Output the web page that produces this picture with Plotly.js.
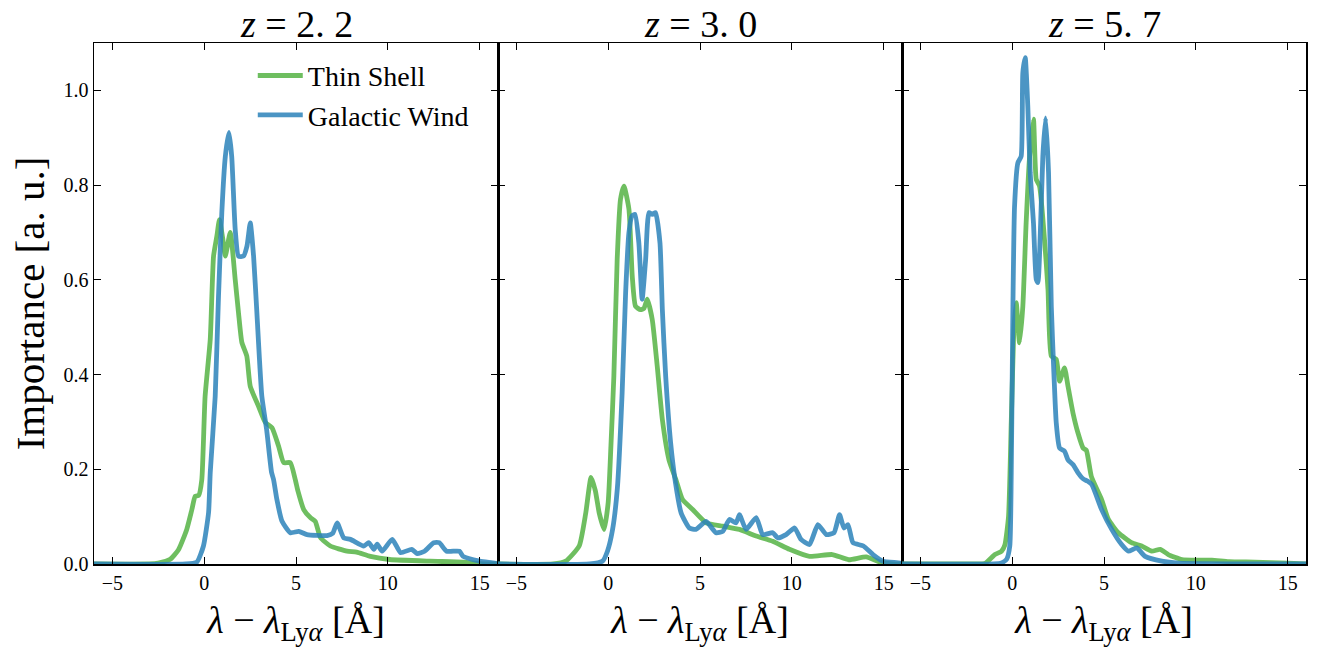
<!DOCTYPE html>
<html>
<head>
<meta charset="utf-8">
<script src="https://cdn.plot.ly/plotly-3.0.1.min.js"></script>
<style>html,body{margin:0;padding:0;background:#fff;}#chart{width:1325px;height:655px;}</style>
</head>
<body>
<div id="chart"></div>
<script>
// ---- data ----
const panelTitles = ["<i>z</i> = 2. 2", "<i>z</i> = 3. 0", "<i>z</i> = 5. 7"];
const seriesNames = ["Thin Shell", "Galactic Wind"];

// z = 2.2
const shell22_x = [-6, -3, -2.5, -1.85, -1.4, -0.95, -0.67, -0.49, -0.3, -0.13, 0.05, 0.33, 0.51, 0.69, 0.83, 1.0, 1.15, 1.42, 1.69, 1.87, 2.05, 2.32, 2.51, 2.96, 3.33, 3.69, 4.05, 4.33, 4.69, 4.96, 5.1, 5.42, 5.78, 6.05, 6.33, 6.87, 7.78, 8.3, 9.05, 10.1, 12.3, 14.1, 15, 16];
const shell22_y = [0, 0, 0.002, 0.01, 0.03, 0.073, 0.115, 0.143, 0.145, 0.178, 0.354, 0.474, 0.65, 0.692, 0.727, 0.69, 0.65, 0.70, 0.60, 0.53, 0.468, 0.439, 0.375, 0.333, 0.299, 0.288, 0.249, 0.214, 0.214, 0.178, 0.155, 0.115, 0.098, 0.09, 0.056, 0.038, 0.027, 0.025, 0.016, 0.0095, 0.006, 0.004, 0.001, 0];
const wind22_x = [-6, -1, -0.4, -0.04, 0.24, 0.33, 0.6, 0.78, 0.96, 1.15, 1.35, 1.5, 1.69, 1.87, 2.14, 2.33, 2.51, 2.69, 2.87, 3.14, 3.4, 3.67, 3.78, 3.96, 4.24, 4.69, 5.15, 5.6, 6.69, 7.0, 7.24, 7.6, 7.96, 8.69, 8.96, 9.24, 9.42, 9.69, 10.24, 10.7, 11.3, 11.6, 12.0, 12.5, 12.8, 13.2, 13.9, 14.1, 15.0, 15.8, 16];
const wind22_y = [0, 0, 0.004, 0.038, 0.109, 0.193, 0.354, 0.566, 0.742, 0.86, 0.911, 0.86, 0.706, 0.65, 0.65, 0.671, 0.72, 0.65, 0.53, 0.354, 0.284, 0.193, 0.178, 0.136, 0.09, 0.066, 0.069, 0.062, 0.06, 0.065, 0.087, 0.055, 0.052, 0.038, 0.045, 0.031, 0.042, 0.027, 0.052, 0.024, 0.031, 0.022, 0.027, 0.045, 0.045, 0.027, 0.027, 0.016, 0.006, 0.002, 0];

// z = 3.0
const shell30_x = [-6, -3, -2.31, -1.58, -1.22, -0.93, -0.7, -0.49, -0.22, 0.0, 0.15, 0.31, 0.49, 0.67, 0.86, 1.13, 1.31, 1.49, 1.76, 1.95, 2.13, 2.4, 2.67, 2.95, 3.31, 3.69, 4.05, 4.6, 5.33, 6.24, 7.15, 8.06, 8.96, 9.87, 10.96, 12.2, 13.1, 14.05, 14.8, 15.5, 16];
const shell30_y = [0, 0, 0.006, 0.038, 0.108, 0.183, 0.155, 0.108, 0.073, 0.13, 0.25, 0.397, 0.643, 0.77, 0.798, 0.749, 0.608, 0.544, 0.537, 0.54, 0.559, 0.516, 0.418, 0.305, 0.22, 0.178, 0.136, 0.115, 0.087, 0.08, 0.073, 0.059, 0.048, 0.031, 0.016, 0.02, 0.009, 0.015, 0.004, 0, 0];
const wind30_x = [-6, -1, -0.31, -0.04, 0.24, 0.5, 0.76, 0.95, 1.13, 1.3, 1.46, 1.67, 1.85, 2.04, 2.22, 2.4, 2.58, 2.82, 2.95, 3.13, 3.4, 3.67, 3.97, 4.42, 4.78, 5.33, 5.87, 6.24, 6.6, 6.96, 7.15, 7.51, 8.06, 8.42, 8.96, 9.24, 9.69, 10.15, 10.5, 10.96, 11.42, 11.88, 12.3, 12.6, 12.84, 13.06, 13.33, 13.9, 14.42, 14.96, 15.9, 16];
const wind30_y = [0, 0, 0.006, 0.027, 0.073, 0.16, 0.362, 0.573, 0.70, 0.735, 0.738, 0.678, 0.559, 0.643, 0.742, 0.738, 0.742, 0.678, 0.537, 0.397, 0.256, 0.17, 0.108, 0.076, 0.073, 0.09, 0.066, 0.069, 0.094, 0.087, 0.104, 0.073, 0.098, 0.062, 0.066, 0.055, 0.062, 0.076, 0.052, 0.041, 0.083, 0.062, 0.066, 0.104, 0.076, 0.083, 0.045, 0.038, 0.02, 0.006, 0.002, 0];

// z = 5.7
const shell57_x = [-6, -2, -1.49, -0.94, -0.58, -0.4, -0.2, -0.05, 0.1, 0.22, 0.4, 0.58, 0.76, 0.95, 1.16, 1.31, 1.49, 1.76, 1.95, 2.13, 2.4, 2.58, 2.85, 3.04, 3.31, 3.58, 3.86, 4.04, 4.31, 4.87, 5.24, 5.78, 6.5, 7.05, 7.6, 8.06, 8.5, 9.24, 10.15, 10.87, 11.8, 13.2, 15, 16];
const shell57_y = [0, 0, 0.001, 0.02, 0.027, 0.04, 0.1, 0.3, 0.5, 0.552, 0.467, 0.544, 0.72, 0.861, 0.939, 0.812, 0.798, 0.685, 0.58, 0.439, 0.432, 0.386, 0.414, 0.375, 0.319, 0.277, 0.245, 0.24, 0.185, 0.136, 0.094, 0.066, 0.045, 0.038, 0.027, 0.031, 0.02, 0.0095, 0.008, 0.008, 0.005, 0.004, 0.002, 0];
const wind57_x = [-6, -1, -0.58, -0.3, -0.13, -0.05, 0.04, 0.13, 0.31, 0.49, 0.58, 0.71, 0.85, 0.98, 1.16, 1.31, 1.4, 1.55, 1.67, 1.82, 1.98, 2.13, 2.27, 2.4, 2.58, 2.85, 3.04, 3.31, 3.58, 3.86, 4.1, 4.33, 4.87, 5.42, 5.96, 6.33, 6.78, 7.24, 8.15, 9.05, 16];
const wind57_y = [0, 0, 0.002, 0.01, 0.038, 0.193, 0.544, 0.756, 0.847, 0.861, 1.037, 1.069, 0.967, 0.826, 0.72, 0.601, 0.594, 0.72, 0.861, 0.942, 0.826, 0.544, 0.404, 0.298, 0.245, 0.238, 0.22, 0.21, 0.193, 0.18, 0.175, 0.168, 0.115, 0.073, 0.041, 0.027, 0.034, 0.016, 0.006, 0.002, 0];

const xTickVals = [-5, 0, 5, 10, 15];
const yTickVals = [0, 0.2, 0.4, 0.6, 0.8, 1.0];

// ---- styling ----
const FONT = "'Liberation Serif', 'DejaVu Serif', serif";
const shellColor = "#55b344";
const windColor = "#2b83ba";

const panels = [
  {shellX: shell22_x, shellY: shell22_y, windX: wind22_x, windY: wind22_y},
  {shellX: shell30_x, shellY: shell30_y, windX: wind30_x, windY: wind30_y},
  {shellX: shell57_x, shellY: shell57_y, windX: wind57_x, windY: wind57_y}
];

const traces = [];
panels.forEach((p, i) => {
  const xa = i === 0 ? 'x' : 'x' + (i + 1);
  const ya = i === 0 ? 'y' : 'y' + (i + 1);
  traces.push({x: p.shellX, y: p.shellY, xaxis: xa, yaxis: ya, type: 'scatter', mode: 'lines',
    name: seriesNames[0], legendgroup: 'a', showlegend: i === 0, opacity: 0.85,
    line: {color: shellColor, width: 4.8, shape: 'spline', smoothing: 0.5}, hoverinfo: 'skip'});
  traces.push({x: p.windX, y: p.windY, xaxis: xa, yaxis: ya, type: 'scatter', mode: 'lines',
    name: seriesNames[1], legendgroup: 'b', showlegend: i === 0, opacity: 0.85,
    line: {color: windColor, width: 4.8, shape: 'spline', smoothing: 0.5}, hoverinfo: 'skip'});
});

const layout = {
  width: 1325, height: 655,
  margin: {l: 94, r: 19, t: 43, b: 91, pad: 0},
  paper_bgcolor: '#fff', plot_bgcolor: '#fff',
  font: {family: FONT, color: '#000', size: 20},
  showlegend: true,
  legend: {x: 0.131, y: 0.985, xanchor: 'left', yanchor: 'top', bgcolor: 'rgba(0,0,0,0)',
    font: {family: FONT, size: 28}, traceorder: 'grouped', tracegroupgap: 0, itemwidth: 45},
  annotations: [],
  hovermode: false
};

const domains = [[0, 1/3], [1/3, 2/3], [2/3, 1]];
for (let i = 0; i < 3; i++) {
  const sfx = i === 0 ? '' : String(i + 1);
  layout['xaxis' + sfx] = {
    domain: domains[i], anchor: 'y' + sfx, range: [-6, 16],
    tickvals: xTickVals, ticks: 'inside', ticklen: 7, tickwidth: 1, tickcolor: '#000',
    showline: true, linecolor: '#000', linewidth: 1.5, mirror: 'ticks',
    showgrid: false, zeroline: false,
    tickfont: {family: FONT, size: 20},
    title: {text: '<i>λ</i> − <i>λ</i><sub>Ly<i>α</i></sub> [Å]', font: {family: FONT, size: 38}, standoff: 14}
  };
  layout['yaxis' + sfx] = {
    anchor: 'x' + sfx, range: [0, 1.1],
    tickvals: yTickVals, tickformat: '.1f', ticks: 'inside', ticklen: 7, tickwidth: 1, tickcolor: '#000',
    showline: true, linecolor: '#000', linewidth: 1.5, mirror: 'ticks',
    showgrid: false, zeroline: false, showticklabels: i === 0,
    tickfont: {family: FONT, size: 20}
  };
  layout.annotations.push({
    text: panelTitles[i], xref: 'paper', yref: 'paper',
    x: (domains[i][0] + domains[i][1]) / 2, y: 1, xanchor: 'center', yanchor: 'bottom',
    yshift: -4, showarrow: false, font: {family: FONT, size: 38}
  });
}
layout.yaxis.title = {text: 'Importance [a. u.]', font: {family: FONT, size: 41}, standoff: 6};

Plotly.newPlot('chart', traces, layout, {staticPlot: true, displayModeBar: false});
</script>
</body>
</html>
